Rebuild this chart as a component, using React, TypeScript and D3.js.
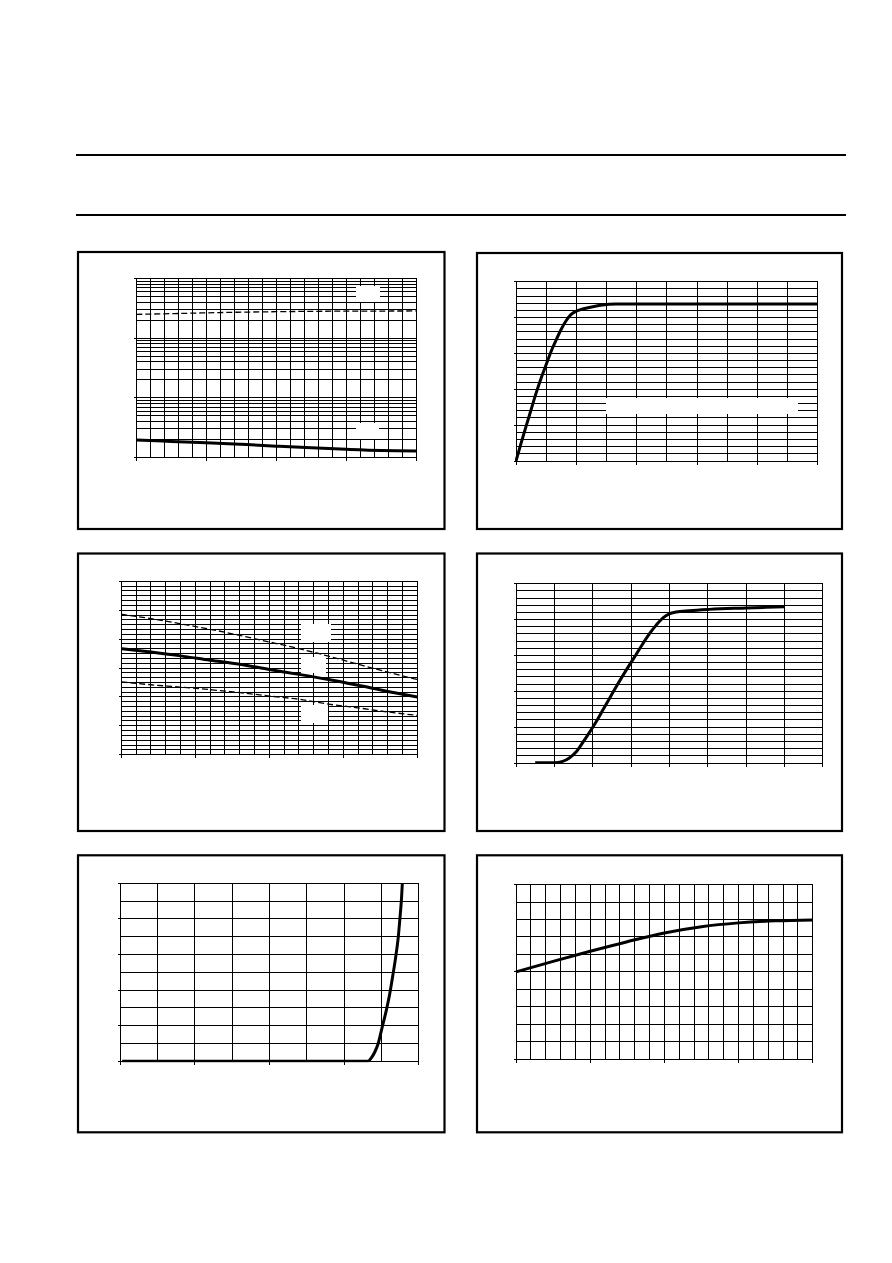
import React from 'react';
import * as d3 from 'd3';

// ---------- Panel 1 (log scale, two series) ----------
const p1X = [-50, -25, 0, 25, 50, 75, 100, 125, 150];
const p1Upper = [24.9, 25.6, 26.4, 27.1, 27.6, 28.0, 28.2, 28.3, 28.4];
const p1Lower = [0.196, 0.186, 0.177, 0.166, 0.155, 0.145, 0.137, 0.131, 0.129];

// ---------- Panel 2 ----------
const p2X = [0, 0.166, 0.331, 0.497, 0.663, 0.829, 0.994, 1.16, 1.33, 1.49, 1.66, 1.82, 1.99, 2.21, 2.54, 2.87, 3.31, 4, 5, 6, 7, 8, 9, 10];
const p2Y = [0, 2.46, 4.79, 7.11, 9.43, 11.52, 13.38, 15.24, 16.87, 18.3, 19.55, 20.4, 20.88, 21.2, 21.5, 21.75, 21.88, 21.9, 21.9, 21.9, 21.9, 21.9, 21.9, 21.9];

// ---------- Panel 3 (three series) ----------
const p3X = [-50, -30, -10, 10, 30, 50, 70, 90, 110, 130, 150];
const p3Upper = [4.86, 4.71, 4.53, 4.34, 4.13, 3.9, 3.67, 3.41, 3.13, 2.86, 2.6];
const p3Mid = [3.67, 3.55, 3.42, 3.27, 3.13, 2.95, 2.78, 2.6, 2.4, 2.19, 2.0];
const p3Lower = [2.52, 2.42, 2.34, 2.25, 2.15, 2.03, 1.92, 1.75, 1.62, 1.48, 1.36];

// ---------- Panel 4 ----------
const p4X = [0.5, 1, 1.217, 1.391, 1.565, 1.739, 1.913, 2.087, 2.261, 2.435, 2.609, 2.783, 2.957, 3.13, 3.304, 3.478, 3.652, 3.826, 4.0, 4.174, 4.522, 5.043, 6.0, 7.0];
const p4Y = [0.05, 0.05, 0.23, 0.7, 1.53, 2.83, 4.23, 5.72, 7.34, 8.97, 10.59, 12.15, 13.65, 15.1, 16.6, 18.0, 19.19, 20.2, 20.8, 21.05, 21.24, 21.42, 21.61, 21.79];

// ---------- Panel 5 ----------
const p5X = [0.05, 2, 4, 6, 6.64, 6.73, 6.82, 6.91, 7.02, 7.13, 7.22, 7.31, 7.38, 7.45, 7.49, 7.54, 7.56];
const p5Y = [0, 0, 0, 0, 0, 0.19, 0.51, 0.97, 1.91, 2.85, 3.75, 4.87, 5.81, 6.93, 7.87, 9.18, 9.96];

// ---------- Panel 6 ----------
const p6X = [0, 2.5, 5, 7.5, 10, 12.5, 15, 17.5, 20];
const p6Y = [5.0, 5.6, 6.18, 6.73, 7.23, 7.59, 7.81, 7.93, 7.98];

const range = (a: number, b: number, step: number) => {
  const out: number[] = [];
  const n = Math.round((b - a) / step);
  for (let i = 0; i <= n; i++) out.push(a + i * step);
  return out;
};

const logGrid = (lo: number, hi: number) => {
  const out: number[] = [];
  for (let d = lo; d < hi * 0.999; d *= 10) {
    for (let m = 1; m < 10; m++) out.push(d * m);
  }
  out.push(hi);
  return out;
};

type Series = { xs: number[]; ys: number[]; width: number; dash?: string };
type Rect = { x: number; y: number; w: number; h: number };

type PanelProps = {
  id: string;
  box: Rect;
  plot: { x0: number; x1: number; y0: number; y1: number };
  xDomain: [number, number];
  yDomain: [number, number];
  log?: boolean;
  xGrid: number[];
  yGrid: number[];
  xTicks: number[];
  yTicks: number[];
  series: Series[];
  blanks: Rect[];
};

const snap = (v: number) => Math.round(v - 0.5) + 0.5;

function Panel(p: PanelProps) {
  const x = d3.scaleLinear().domain(p.xDomain).range([p.plot.x0, p.plot.x1]);
  const y = p.log
    ? d3.scaleLog().domain(p.yDomain).range([p.plot.y1, p.plot.y0])
    : d3.scaleLinear().domain(p.yDomain).range([p.plot.y1, p.plot.y0]);
  const clipId = `clip-${p.id}`;
  return (
    <g>
      <rect x={p.box.x} y={p.box.y} width={p.box.w} height={p.box.h} fill="white" stroke="black" strokeWidth={2.2} />
      <defs>
        <clipPath id={clipId}>
          <rect x={p.plot.x0 - 1} y={p.plot.y0 - 1} width={p.plot.x1 - p.plot.x0 + 2} height={p.plot.y1 - p.plot.y0 + 2} />
        </clipPath>
      </defs>
      <g shapeRendering="crispEdges" stroke="black" strokeWidth={1}>
        {p.xGrid.map((v, i) => (
          <line key={`xg${i}`} x1={snap(x(v))} x2={snap(x(v))} y1={snap(y(p.yDomain[1]))} y2={snap(y(p.yDomain[0]))} />
        ))}
        {p.yGrid.map((v, i) => (
          <line key={`yg${i}`} x1={snap(x(p.xDomain[0]))} x2={snap(x(p.xDomain[1]))} y1={snap(y(v))} y2={snap(y(v))} />
        ))}
        {p.xTicks.map((v, i) => (
          <line key={`xt${i}`} x1={snap(x(v))} x2={snap(x(v))} y1={snap(y(p.yDomain[0]))} y2={snap(y(p.yDomain[0])) + 3} />
        ))}
        {p.yTicks.map((v, i) => (
          <line key={`yt${i}`} x1={snap(x(p.xDomain[0])) - 3} x2={snap(x(p.xDomain[0]))} y1={snap(y(v))} y2={snap(y(v))} />
        ))}
      </g>
      {p.blanks.map((b, i) => (
        <rect key={`b${i}`} x={b.x} y={b.y} width={b.w} height={b.h} fill="white" />
      ))}
      <g clipPath={`url(#${clipId})`}>
        {p.series.map((s, i) => {
          const pts = s.xs.map((xv, j) => [xv, s.ys[j]] as [number, number]);
          const gen = d3
            .line<[number, number]>()
            .x((d) => x(d[0]))
            .y((d) => y(d[1]))
            .curve(d3.curveMonotoneX);
          return (
            <path
              key={`s${i}`}
              d={gen(pts) || ''}
              fill="none"
              stroke="black"
              strokeWidth={s.width}
              strokeDasharray={s.dash}
              strokeLinejoin="round"
            />
          );
        })}
      </g>
    </g>
  );
}

export default function App() {
  const panels: PanelProps[] = [
    {
      id: 'p1',
      box: { x: 78, y: 252, w: 366.5, h: 277 },
      plot: { x0: 136.3, x1: 416.3, y0: 278.3, y1: 457.5 },
      xDomain: [-50, 150],
      yDomain: [0.1, 100],
      log: true,
      xGrid: range(-50, 150, 10),
      yGrid: logGrid(0.1, 100),
      xTicks: range(-50, 150, 50),
      yTicks: [0.1, 1, 10, 100],
      series: [
        { xs: p1X, ys: p1Upper, width: 1.3, dash: '6,3' },
        { xs: p1X, ys: p1Lower, width: 3 },
      ],
      blanks: [
        { x: 356, y: 286, w: 24, h: 16 },
        { x: 356, y: 423, w: 23, h: 16 },
      ],
    },
    {
      id: 'p2',
      box: { x: 477, y: 253, w: 365, h: 276 },
      plot: { x0: 516, x1: 817.7, y0: 281.7, y1: 461 },
      xDomain: [0, 10],
      yDomain: [0, 25],
      xGrid: range(0, 10, 1),
      yGrid: range(0, 25, 1),
      xTicks: range(0, 10, 2),
      yTicks: range(0, 25, 5),
      series: [{ xs: p2X, ys: p2Y, width: 3 }],
      blanks: [{ x: 606, y: 398, w: 192, h: 16 }],
    },
    {
      id: 'p3',
      box: { x: 78, y: 553.5, w: 366.5, h: 277.5 },
      plot: { x0: 121.3, x1: 417.3, y0: 581.3, y1: 754.7 },
      xDomain: [-50, 150],
      yDomain: [0, 6],
      xGrid: range(-50, 150, 10),
      yGrid: range(0, 6, 1 / 6),
      xTicks: range(-50, 150, 50),
      yTicks: range(0, 6, 1),
      series: [
        { xs: p3X, ys: p3Upper, width: 1.3, dash: '6,3' },
        { xs: p3X, ys: p3Mid, width: 3 },
        { xs: p3X, ys: p3Lower, width: 1.3, dash: '6,3' },
      ],
      blanks: [
        { x: 301, y: 624, w: 30, h: 18 },
        { x: 301, y: 657, w: 25, h: 16 },
        { x: 301, y: 705, w: 27, h: 18 },
      ],
    },
    {
      id: 'p4',
      box: { x: 477, y: 553.5, w: 365, h: 277.5 },
      plot: { x0: 516, x1: 822.7, y0: 583.7, y1: 763 },
      xDomain: [0, 8],
      yDomain: [0, 25],
      xGrid: range(0, 8, 1),
      yGrid: range(0, 25, 1),
      xTicks: range(0, 8, 1),
      yTicks: range(0, 25, 5),
      series: [{ xs: p4X, ys: p4Y, width: 3 }],
      blanks: [],
    },
    {
      id: 'p5',
      box: { x: 78, y: 855.3, w: 366.5, h: 277 },
      plot: { x0: 120.3, x1: 418.7, y0: 883.3, y1: 1061.3 },
      xDomain: [0, 8],
      yDomain: [0, 10],
      xGrid: range(0, 8, 1),
      yGrid: range(0, 10, 1),
      xTicks: range(0, 8, 2),
      yTicks: range(0, 10, 2),
      series: [{ xs: p5X, ys: p5Y, width: 3 }],
      blanks: [],
    },
    {
      id: 'p6',
      box: { x: 477, y: 855.3, w: 365, h: 277 },
      plot: { x0: 516, x1: 812.7, y0: 884.7, y1: 1059 },
      xDomain: [0, 20],
      yDomain: [0, 10],
      xGrid: range(0, 20, 1),
      yGrid: range(0, 10, 1),
      xTicks: range(0, 20, 5),
      yTicks: range(0, 10, 5),
      series: [{ xs: p6X, ys: p6Y, width: 3 }],
      blanks: [],
    },
  ];

  return (
    <svg
      width={892}
      height={1263}
      style={{ position: 'absolute', left: 0, top: 0, background: 'white' }}
      xmlns="http://www.w3.org/2000/svg"
    >
      <rect x={0} y={0} width={892} height={1263} fill="white" />
      <line x1={76} x2={846} y1={155} y2={155} stroke="black" strokeWidth={2} />
      <line x1={76} x2={846} y1={215} y2={215} stroke="black" strokeWidth={2} />
      {panels.map((p) => (
        <Panel key={p.id} {...p} />
      ))}
    </svg>
  );
}
